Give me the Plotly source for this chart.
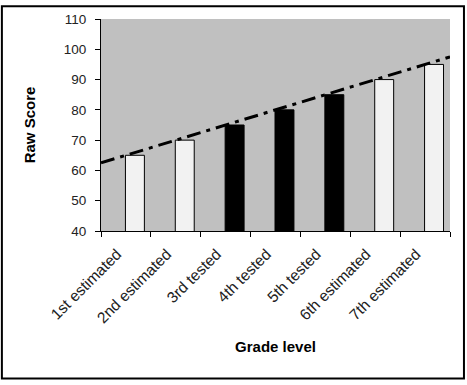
import numpy as np
import plotly.graph_objects as go

grades = ["1st estimated", "2nd estimated", "3rd tested", "4th tested",
          "5th tested", "6th estimated", "7th estimated"]
scores = [65, 70, 75, 80, 85, 90, 95]
kinds = ["estimated", "estimated", "tested", "tested", "tested", "estimated", "estimated"]

fill = {"estimated": "#f2f2f2", "tested": "#000000"}
bar_colors = [fill[k] for k in kinds]

# linear trendline (as Excel) through the bar values, drawn across the full plot width
idx = np.arange(1, len(scores) + 1)
slope, intercept = np.polyfit(idx, scores, 1)
trend_x = [0.5, len(scores) + 0.5]
trend_y = [slope * x + intercept for x in trend_x]

fig = go.Figure()
fig.add_trace(go.Bar(
    x=grades, y=scores,
    marker=dict(color=bar_colors, line=dict(color="#000000", width=1)),
    offset=-0.01, width=0.38,
    showlegend=False, hoverinfo="x+y",
))
fig.add_trace(go.Scatter(
    x=trend_x, y=trend_y, xaxis="x2", mode="lines",
    line=dict(color="#000000", width=3, dash="14px,6px,4px,6px"),
    showlegend=False,
))

font_family = "Liberation Sans, Arial, sans-serif"
fig.update_layout(
    width=467, height=385,
    margin=dict(l=101, r=17, t=14, b=154),
    paper_bgcolor="#ffffff",
    plot_bgcolor="#c0c0c0",
    font=dict(family=font_family, size=14, color="#222222"),
    xaxis=dict(
        type="category", tickson="boundaries", ticks="outside", ticklen=5,
        tickcolor="#000000", showline=True, linecolor="#000000", linewidth=1,
        showgrid=False, tickangle=-45, tickfont=dict(size=15.5, color="#222222"),
        ticklabelshift=-9, ticklabelstandoff=7,
        title=dict(text="<b>Grade level</b>", font=dict(size=15, color="#000000"), standoff=16),
        range=[-0.5, len(grades) - 0.5], fixedrange=True,
    ),
    xaxis2=dict(
        overlaying="x", range=[0.5, len(grades) + 0.5], visible=False, fixedrange=True,
    ),
    yaxis=dict(
        range=[40, 110], dtick=10, ticks="outside", ticklen=5, tickcolor="#000000",
        showline=True, linecolor="#000000", linewidth=1, showgrid=False, zeroline=False,
        tickfont=dict(size=13.5, color="#222222"), ticklabelstandoff=6,
        title=dict(text="<b>Raw Score</b>", font=dict(size=15, color="#000000"), standoff=24),
        fixedrange=True,
    ),
    shapes=[dict(
        type="rect", xref="paper", yref="paper",
        x0=-0.284, x1=1.040, y0=-0.696, y1=1.06,
        line=dict(color="#000000", width=2), fillcolor="rgba(0,0,0,0)", layer="below",
    )],
)

fig.write_html("out.html", config={"displayModeBar": False},
               post_script="document.body.style.margin='0';")
